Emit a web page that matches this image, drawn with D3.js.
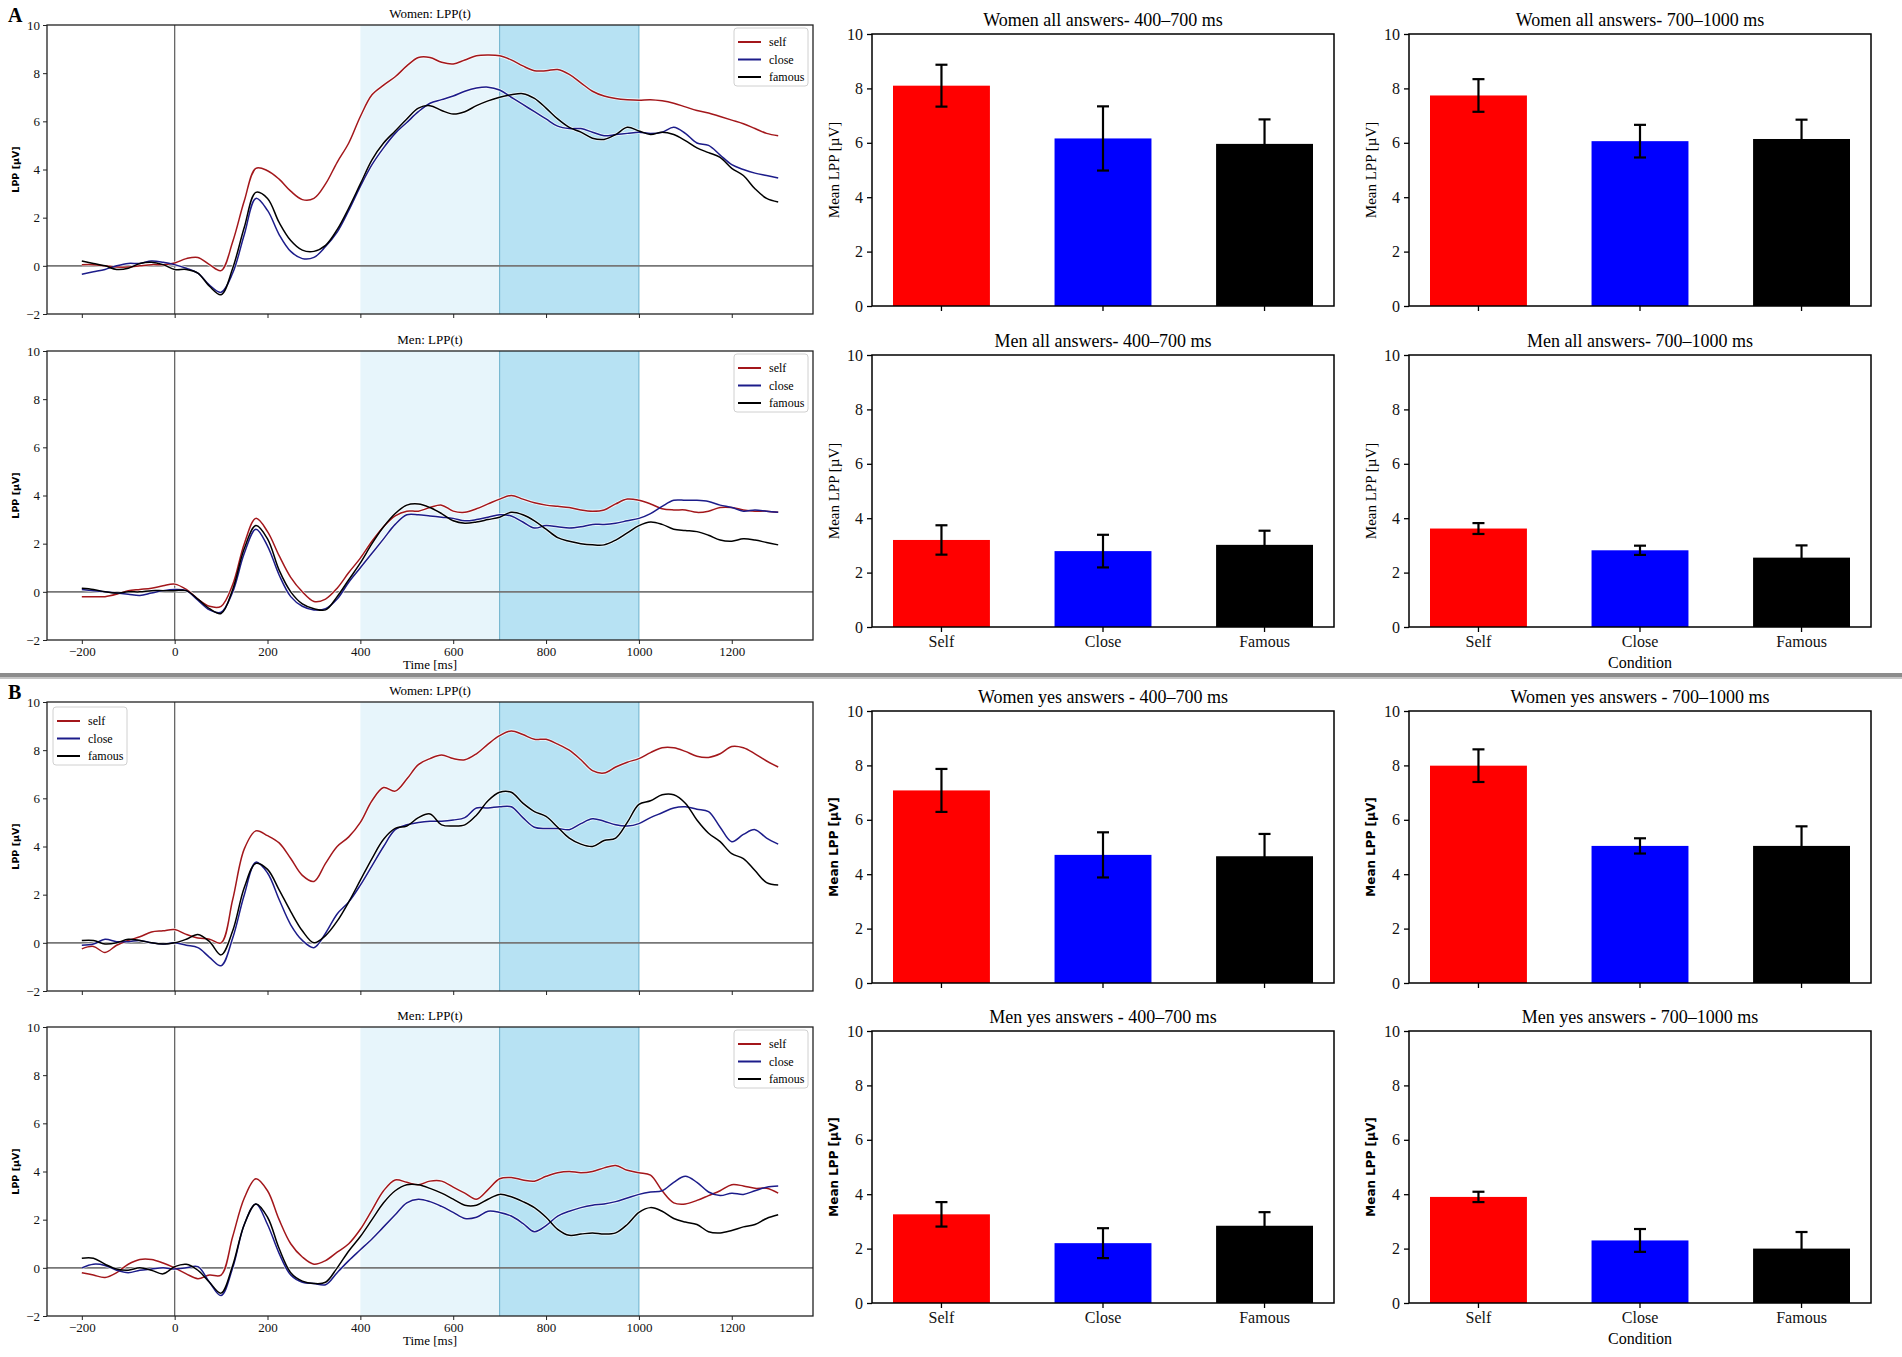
<!DOCTYPE html>
<html>
<head>
<meta charset="utf-8">
<script src="https://cdn.jsdelivr.net/npm/d3@7"></script>
<style>
  body { margin: 0; background: #fff; }
  svg { display: block; }
</style>
</head>
<body>
<svg id="fig" width="1902" height="1357"></svg>
<script>
// time grid of the ERP traces (ms)
const timeMs = [-200, -175, -150, -125, -100, -75, -50, -25,
  0, 25, 50, 75, 100, 125, 150, 175, 200, 225, 250, 275, 300, 325, 350, 375,
  400, 425, 450, 475, 500, 525, 550, 575, 600, 625, 650, 675, 700, 725, 750, 775,
  800, 825, 850, 875, 900, 925, 950, 975, 1000, 1025, 1050, 1075, 1100, 1125, 1150, 1175,
  1200, 1225, 1250, 1275, 1300];

// A, women, all answers
const womenAllSelf = [0.05, 0.05, 0.0, -0.05, -0.05, 0.0, 0.05, 0.05,
  0.12, 0.3, 0.35, 0.05, -0.2, 1.0, 2.7, 4.05, 3.95, 3.6, 3.1, 2.75, 2.8, 3.4, 4.3, 5.1,
  6.2, 7.1, 7.5, 7.85, 8.3, 8.65, 8.65, 8.45, 8.38, 8.55, 8.72, 8.75, 8.72, 8.55, 8.3, 8.1,
  8.1, 8.15, 7.95, 7.6, 7.25, 7.05, 6.95, 6.9, 6.88, 6.9, 6.85, 6.75, 6.6, 6.45, 6.35, 6.2,
  6.05, 5.9, 5.7, 5.5, 5.4];
const womenAllClose = [-0.35, -0.25, -0.15, 0.0, 0.1, 0.1, 0.2, 0.15,
  0.05, -0.1, -0.3, -0.8, -1.1, -0.3, 1.3, 2.8, 2.3, 1.3, 0.6, 0.3, 0.35, 0.8, 1.4, 2.3,
  3.3, 4.2, 4.9, 5.5, 5.95, 6.4, 6.75, 6.9, 7.05, 7.25, 7.38, 7.42, 7.3, 7.0, 6.7, 6.4,
  6.1, 5.8, 5.7, 5.7, 5.55, 5.4, 5.45, 5.5, 5.55, 5.5, 5.55, 5.75, 5.5, 5.1, 5.0, 4.6,
  4.2, 4.0, 3.85, 3.75, 3.65];
const womenAllFamous = [0.2, 0.1, 0.0, -0.15, -0.1, 0.1, 0.15, 0.05,
  -0.15, -0.15, -0.3, -0.85, -1.2, -0.1, 1.6, 3.05, 2.8, 1.8, 1.05, 0.65, 0.6, 0.85, 1.5, 2.4,
  3.4, 4.4, 5.1, 5.6, 6.1, 6.55, 6.65, 6.45, 6.3, 6.4, 6.65, 6.85, 7.0, 7.1, 7.15, 6.95,
  6.55, 6.1, 5.75, 5.55, 5.3, 5.25, 5.45, 5.75, 5.6, 5.45, 5.55, 5.45, 5.2, 4.9, 4.7, 4.5,
  4.05, 3.75, 3.2, 2.8, 2.65];

// A, men, all answers
const menAllSelf = [-0.2, -0.2, -0.2, -0.1, 0.05, 0.1, 0.15, 0.25,
  0.32, 0.1, -0.3, -0.6, -0.6, 0.3, 2.0, 3.05, 2.5, 1.5, 0.6, 0.0, -0.4, -0.3, 0.15, 0.8,
  1.4, 2.1, 2.7, 3.15, 3.35, 3.35, 3.5, 3.6, 3.35, 3.3, 3.45, 3.65, 3.85, 4.0, 3.85, 3.7,
  3.6, 3.55, 3.5, 3.4, 3.35, 3.4, 3.65, 3.85, 3.8, 3.65, 3.45, 3.4, 3.4, 3.3, 3.35, 3.5,
  3.5, 3.4, 3.35, 3.35, 3.3];
const menAllClose = [0.1, 0.05, 0.0, -0.05, -0.1, -0.15, -0.05, 0.05,
  0.1, 0.05, -0.35, -0.75, -0.85, 0.0, 1.6, 2.6, 1.9, 0.7, -0.2, -0.6, -0.75, -0.7, -0.3, 0.4,
  1.0, 1.6, 2.2, 2.8, 3.2, 3.2, 3.15, 3.1, 3.05, 2.95, 3.0, 3.1, 3.2, 3.15, 2.9, 2.65,
  2.75, 2.7, 2.65, 2.7, 2.8, 2.8, 2.85, 2.95, 3.05, 3.25, 3.55, 3.8, 3.8, 3.8, 3.75, 3.6,
  3.5, 3.35, 3.4, 3.35, 3.3];
const menAllFamous = [0.15, 0.1, 0.0, -0.05, 0.0, 0.0, 0.05, 0.05,
  0.05, 0.05, -0.3, -0.7, -0.9, 0.1, 1.8, 2.75, 2.2, 0.9, 0.0, -0.5, -0.7, -0.75, -0.2, 0.5,
  1.2, 2.0, 2.7, 3.25, 3.6, 3.65, 3.5, 3.25, 2.95, 2.85, 2.9, 3.0, 3.1, 3.3, 3.2, 2.95,
  2.6, 2.25, 2.1, 2.0, 1.95, 1.95, 2.15, 2.45, 2.75, 2.9, 2.8, 2.6, 2.55, 2.5, 2.35, 2.15,
  2.1, 2.2, 2.15, 2.05, 1.95];

// B, women, yes answers
const womenYesSelf = [-0.25, -0.15, -0.4, -0.1, 0.1, 0.25, 0.45, 0.5,
  0.55, 0.35, 0.2, 0.15, 0.0, 1.8, 3.9, 4.65, 4.45, 4.15, 3.5, 2.8, 2.55, 3.3, 4.0, 4.4,
  5.0, 5.9, 6.45, 6.3, 6.8, 7.4, 7.65, 7.8, 7.65, 7.6, 7.85, 8.25, 8.6, 8.8, 8.65, 8.45,
  8.45, 8.25, 8.0, 7.6, 7.15, 7.05, 7.3, 7.5, 7.65, 7.9, 8.1, 8.1, 7.95, 7.75, 7.7, 7.85,
  8.15, 8.1, 7.85, 7.55, 7.3];
const womenYesClose = [-0.1, -0.05, 0.15, 0.05, 0.05, 0.1, 0.0, -0.05,
  0.0, -0.1, -0.2, -0.6, -0.95, 0.2, 2.0, 3.35, 2.9, 1.8, 0.75, 0.1, -0.2, 0.4, 1.2, 1.7,
  2.4, 3.2, 4.0, 4.7, 4.9, 5.0, 5.05, 5.05, 5.1, 5.2, 5.6, 5.6, 5.65, 5.65, 5.2, 4.8,
  4.75, 4.75, 4.7, 4.95, 5.15, 5.05, 4.9, 4.85, 4.95, 5.2, 5.4, 5.6, 5.65, 5.55, 5.45, 4.8,
  4.2, 4.5, 4.7, 4.35, 4.1];
const womenYesFamous = [0.1, 0.1, -0.05, 0.0, 0.15, 0.1, 0.0, -0.05,
  0.0, 0.15, 0.35, 0.05, -0.5, 0.5, 2.3, 3.3, 3.05, 2.2, 1.3, 0.5, 0.0, 0.3, 0.9, 1.7,
  2.6, 3.5, 4.3, 4.75, 4.85, 5.2, 5.35, 4.9, 4.85, 4.9, 5.3, 5.9, 6.25, 6.25, 5.8, 5.45,
  5.25, 4.8, 4.35, 4.1, 4.0, 4.25, 4.35, 5.0, 5.75, 5.9, 6.15, 6.15, 5.8, 5.1, 4.55, 4.2,
  3.7, 3.5, 3.0, 2.5, 2.4];

// B, men, yes answers
const menYesSelf = [-0.2, -0.3, -0.4, -0.2, 0.15, 0.35, 0.35, 0.2,
  0.0, -0.25, -0.45, -0.3, -0.3, 1.3, 2.9, 3.7, 3.2, 2.0, 1.0, 0.45, 0.15, 0.3, 0.65, 1.0,
  1.6, 2.4, 3.2, 3.65, 3.55, 3.45, 3.6, 3.6, 3.35, 3.1, 2.85, 3.25, 3.7, 3.75, 3.65, 3.6,
  3.8, 3.95, 4.0, 3.95, 4.0, 4.15, 4.25, 4.05, 3.95, 3.85, 3.2, 2.7, 2.65, 2.8, 3.0, 3.2,
  3.45, 3.4, 3.3, 3.3, 3.1];
const menYesClose = [0.0, 0.15, 0.1, -0.1, -0.2, -0.1, -0.05, 0.0,
  -0.05, 0.0, 0.05, -0.6, -1.15, 0.0, 1.8, 2.65, 1.8, 0.6, -0.3, -0.6, -0.65, -0.7, -0.2, 0.3,
  0.75, 1.2, 1.7, 2.2, 2.7, 2.85, 2.75, 2.55, 2.3, 2.05, 2.1, 2.35, 2.3, 2.15, 1.85, 1.5,
  1.75, 2.15, 2.35, 2.5, 2.6, 2.65, 2.75, 2.9, 3.05, 3.15, 3.2, 3.55, 3.8, 3.55, 3.15, 3.0,
  3.1, 3.05, 3.2, 3.35, 3.4];
const menYesFamous = [0.4, 0.4, 0.15, -0.05, -0.1, 0.0, -0.1, -0.25,
  0.05, 0.15, -0.1, -0.6, -1.05, 0.1, 1.8, 2.65, 2.1, 0.8, -0.2, -0.55, -0.65, -0.6, 0.0, 0.7,
  1.3, 2.0, 2.7, 3.2, 3.45, 3.45, 3.3, 3.1, 2.85, 2.6, 2.6, 2.85, 3.05, 2.95, 2.75, 2.5,
  2.1, 1.6, 1.35, 1.4, 1.45, 1.4, 1.45, 1.8, 2.3, 2.5, 2.35, 2.05, 1.9, 1.8, 1.5, 1.45,
  1.55, 1.7, 1.8, 2.05, 2.2];

const seriesNames = ["self", "close", "famous"];
const seriesColors = ["#a3171b", "#1c1c8a", "#000000"];
const xTicks = [-200, 0, 200, 400, 600, 800, 1000, 1200];
const yTicksLine = [-2, 0, 2, 4, 6, 8, 10];

// bar charts: mean LPP per condition, with error half-widths
const conditions = ["Self", "Close", "Famous"];
const barColors = ["#ff0000", "#0000ff", "#000000"];
const yTicksBar = [0, 2, 4, 6, 8, 10];

const womenAllEarlyMean = [8.10, 6.16, 5.96];
const womenAllEarlyErr = [0.77, 1.18, 0.90];
const womenAllLateMean = [7.74, 6.06, 6.14];
const womenAllLateErr = [0.60, 0.60, 0.71];
const menAllEarlyMean = [3.20, 2.79, 3.02];
const menAllEarlyErr = [0.54, 0.60, 0.52];
const menAllLateMean = [3.62, 2.82, 2.55];
const menAllLateErr = [0.20, 0.17, 0.45];
const womenYesEarlyMean = [7.08, 4.71, 4.66];
const womenYesEarlyErr = [0.79, 0.83, 0.82];
const womenYesLateMean = [7.99, 5.04, 5.04];
const womenYesLateErr = [0.60, 0.28, 0.72];
const menYesEarlyMean = [3.26, 2.20, 2.84];
const menYesEarlyErr = [0.45, 0.55, 0.50];
const menYesLateMean = [3.90, 2.30, 2.00];
const menYesLateErr = [0.19, 0.42, 0.61];

const svg = d3.select("#fig");
const serif = '"Liberation Serif", "DejaVu Serif", serif';
const sansBold = '"DejaVu Sans", sans-serif';

// matplotlib style minus sign
const tickFmt = v => String(v).replace("-", "\u2212");

function drawLinePanel(box, traces, title, legendLeft, showX) {
  const g = svg.append("g");
  const x = d3.scaleLinear().domain([-275, 1375]).range([box.x, box.x + box.w]);
  const y = d3.scaleLinear().domain([-2, 10]).range([box.y + box.h, box.y]);

  // analysis windows
  g.append("rect")
    .attr("x", x(400)).attr("y", box.y)
    .attr("width", x(700) - x(400)).attr("height", box.h)
    .attr("fill", "#87ceeb").attr("fill-opacity", 0.2);
  g.append("rect")
    .attr("x", x(700)).attr("y", box.y)
    .attr("width", x(1000) - x(700)).attr("height", box.h)
    .attr("fill", "#87ceeb").attr("fill-opacity", 0.6);
  [700, 1000].forEach(v => {
    g.append("line")
      .attr("x1", x(v)).attr("x2", x(v))
      .attr("y1", box.y).attr("y2", box.y + box.h)
      .attr("stroke", "#6cb2cc").attr("stroke-width", 1);
  });

  // reference lines
  g.append("line")
    .attr("x1", box.x).attr("x2", box.x + box.w)
    .attr("y1", y(0)).attr("y2", y(0))
    .attr("stroke", "#777").attr("stroke-width", 1.6);
  g.append("line")
    .attr("x1", x(0)).attr("x2", x(0))
    .attr("y1", box.y).attr("y2", box.y + box.h)
    .attr("stroke", "#666").attr("stroke-width", 1.3);

  const line = d3.line()
    .x((d, i) => x(timeMs[i]))
    .y(d => y(d))
    .curve(d3.curveCatmullRom.alpha(0.5));

  traces.forEach(values => {
    g.append("path")
      .attr("d", line(values))
      .attr("fill", "none")
      .attr("stroke", "#fff")
      .attr("stroke-opacity", 0.7)
      .attr("stroke-width", 3.2);
  });
  traces.forEach((values, k) => {
    g.append("path")
      .attr("d", line(values))
      .attr("fill", "none")
      .attr("stroke", seriesColors[k])
      .attr("stroke-width", 1.5);
  });

  // axes
  const xAxis = g.append("g")
    .attr("transform", `translate(0,${box.y + box.h})`)
    .call(d3.axisBottom(x).tickValues(xTicks).tickSize(4).tickPadding(3)
      .tickFormat(showX ? tickFmt : ""));
  const yAxis = g.append("g")
    .attr("transform", `translate(${box.x},0)`)
    .call(d3.axisLeft(y).tickValues(yTicksLine).tickSize(4).tickPadding(3)
      .tickFormat(tickFmt));
  [xAxis, yAxis].forEach(a => {
    a.select(".domain").remove();
    a.selectAll("line").attr("stroke", "#222");
    a.selectAll("text").attr("font-family", serif).attr("font-size", 13).attr("fill", "#111");
  });

  g.append("rect")
    .attr("x", box.x).attr("y", box.y)
    .attr("width", box.w).attr("height", box.h)
    .attr("fill", "none").attr("stroke", "#222").attr("stroke-width", 1.3);

  g.append("text")
    .attr("x", box.x + box.w / 2).attr("y", box.y - 7)
    .attr("text-anchor", "middle")
    .attr("font-family", serif).attr("font-size", 13)
    .text(title);

  g.append("text")
    .attr("transform", `translate(${box.x - 28},${box.y + box.h / 2}) rotate(-90)`)
    .attr("text-anchor", "middle")
    .attr("font-family", sansBold).attr("font-weight", "bold").attr("font-size", 9.5)
    .text("LPP [µV]");

  if (showX) {
    g.append("text")
      .attr("x", box.x + box.w / 2).attr("y", box.y + box.h + 29)
      .attr("text-anchor", "middle")
      .attr("font-family", serif).attr("font-size", 13)
      .text("Time [ms]");
  }

  // legend
  const lw = 74, lh = 58;
  const lx = legendLeft ? box.x + 6 : box.x + box.w - lw - 5;
  const ly = box.y + (legendLeft ? 5 : 3);
  const leg = g.append("g").attr("transform", `translate(${lx},${ly})`);
  leg.append("rect")
    .attr("width", lw).attr("height", lh).attr("rx", 3)
    .attr("fill", "#fff").attr("fill-opacity", 0.85)
    .attr("stroke", "#d0d0d0");
  seriesNames.forEach((name, k) => {
    const yy = 14 + k * 17.5;
    leg.append("line")
      .attr("x1", 4).attr("x2", 27).attr("y1", yy).attr("y2", yy)
      .attr("stroke", seriesColors[k]).attr("stroke-width", 2);
    leg.append("text")
      .attr("x", 35).attr("y", yy + 4)
      .attr("font-family", serif).attr("font-size", 12)
      .text(name);
  });
}

function drawBarPanel(box, means, errs, title, showX, showXLabel, sansLabel) {
  const g = svg.append("g");
  const x = d3.scaleBand().domain(conditions)
    .range([box.x, box.x + box.w]).paddingInner(0.4).paddingOuter(0.13);
  const y = d3.scaleLinear().domain([0, 10]).range([box.y + box.h, box.y]);

  g.selectAll("rect.bar")
    .data(conditions)
    .join("rect")
    .attr("class", "bar")
    .attr("x", d => x(d))
    .attr("width", x.bandwidth())
    .attr("y", (d, i) => y(means[i]))
    .attr("height", (d, i) => y(0) - y(means[i]))
    .attr("fill", (d, i) => barColors[i]);

  conditions.forEach((c, i) => {
    const cx = x(c) + x.bandwidth() / 2;
    const top = y(means[i] + errs[i]);
    const bot = y(means[i] - errs[i]);
    g.append("line").attr("x1", cx).attr("x2", cx).attr("y1", top).attr("y2", bot)
      .attr("stroke", "#000").attr("stroke-width", 2.2);
    [top, bot].forEach(yy => {
      g.append("line").attr("x1", cx - 6).attr("x2", cx + 6).attr("y1", yy).attr("y2", yy)
        .attr("stroke", "#000").attr("stroke-width", 2.2);
    });
  });

  const xAxis = g.append("g")
    .attr("transform", `translate(0,${box.y + box.h})`)
    .call(d3.axisBottom(x).tickSize(5).tickPadding(4)
      .tickFormat(showX ? (d => d) : ""));
  const yAxis = g.append("g")
    .attr("transform", `translate(${box.x},0)`)
    .call(d3.axisLeft(y).tickValues(yTicksBar).tickSize(5).tickPadding(4)
      .tickFormat(d3.format("d")));
  [xAxis, yAxis].forEach(a => {
    a.select(".domain").remove();
    a.selectAll("line").attr("stroke", "#000").attr("stroke-width", 1.3);
    a.selectAll("text").attr("font-family", serif).attr("font-size", 16).attr("fill", "#111");
  });

  g.append("rect")
    .attr("x", box.x).attr("y", box.y)
    .attr("width", box.w).attr("height", box.h)
    .attr("fill", "none").attr("stroke", "#000").attr("stroke-width", 1.5);

  g.append("text")
    .attr("x", box.x + box.w / 2).attr("y", box.y - 8)
    .attr("text-anchor", "middle")
    .attr("font-family", serif).attr("font-size", 18)
    .text(title);

  const yl = g.append("text")
    .attr("transform", `translate(${box.x - 38},${box.y + box.h / 2}) rotate(-90)`)
    .attr("text-anchor", "middle")
    .attr("dy", "0.35em")
    .text("Mean LPP [µV]");
  if (sansLabel) {
    yl.attr("font-family", sansBold).attr("font-weight", "bold").attr("font-size", 12);
  } else {
    yl.attr("font-family", serif).attr("font-size", 15);
  }

  if (showXLabel) {
    g.append("text")
      .attr("x", box.x + box.w / 2).attr("y", box.y + box.h + 41)
      .attr("text-anchor", "middle")
      .attr("font-family", serif).attr("font-size", 16)
      .text("Condition");
  }
}

const lineX = 47, lineW = 766, lineH = 289;
const col1 = 872, col2 = 1409, barW = 462, barH = 272;

// Panel A
drawLinePanel({x: lineX, y: 25, w: lineW, h: lineH},
  [womenAllSelf, womenAllClose, womenAllFamous], "Women: LPP(t)", false, false);
drawLinePanel({x: lineX, y: 351, w: lineW, h: lineH},
  [menAllSelf, menAllClose, menAllFamous], "Men: LPP(t)", false, true);
drawBarPanel({x: col1, y: 34, w: barW, h: barH}, womenAllEarlyMean, womenAllEarlyErr,
  "Women all answers- 400–700 ms", false, false, false);
drawBarPanel({x: col2, y: 34, w: barW, h: barH}, womenAllLateMean, womenAllLateErr,
  "Women all answers- 700–1000 ms", false, false, false);
drawBarPanel({x: col1, y: 355, w: barW, h: barH}, menAllEarlyMean, menAllEarlyErr,
  "Men all answers- 400–700 ms", true, false, false);
drawBarPanel({x: col2, y: 355, w: barW, h: barH}, menAllLateMean, menAllLateErr,
  "Men all answers- 700–1000 ms", true, true, false);

// separator between panels A and B
svg.append("rect").attr("x", 0).attr("y", 673).attr("width", 1902).attr("height", 4).attr("fill", "#8c8c8c");
svg.append("rect").attr("x", 0).attr("y", 677).attr("width", 1902).attr("height", 2).attr("fill", "#c4c4c4");

// Panel B
drawLinePanel({x: lineX, y: 702, w: lineW, h: lineH},
  [womenYesSelf, womenYesClose, womenYesFamous], "Women: LPP(t)", true, false);
drawLinePanel({x: lineX, y: 1027, w: lineW, h: lineH},
  [menYesSelf, menYesClose, menYesFamous], "Men: LPP(t)", false, true);
drawBarPanel({x: col1, y: 711, w: barW, h: barH}, womenYesEarlyMean, womenYesEarlyErr,
  "Women yes answers - 400–700 ms", false, false, true);
drawBarPanel({x: col2, y: 711, w: barW, h: barH}, womenYesLateMean, womenYesLateErr,
  "Women yes answers - 700–1000 ms", false, false, true);
drawBarPanel({x: col1, y: 1031, w: barW, h: barH}, menYesEarlyMean, menYesEarlyErr,
  "Men yes answers - 400–700 ms", true, false, true);
drawBarPanel({x: col2, y: 1031, w: barW, h: barH}, menYesLateMean, menYesLateErr,
  "Men yes answers - 700–1000 ms", true, true, true);

// panel letters
[["A", 22], ["B", 699]].forEach(([t, yy]) => {
  svg.append("text").attr("x", 8).attr("y", yy)
    .attr("font-family", serif).attr("font-weight", "bold").attr("font-size", 20)
    .text(t);
});
</script>
</body>
</html>
